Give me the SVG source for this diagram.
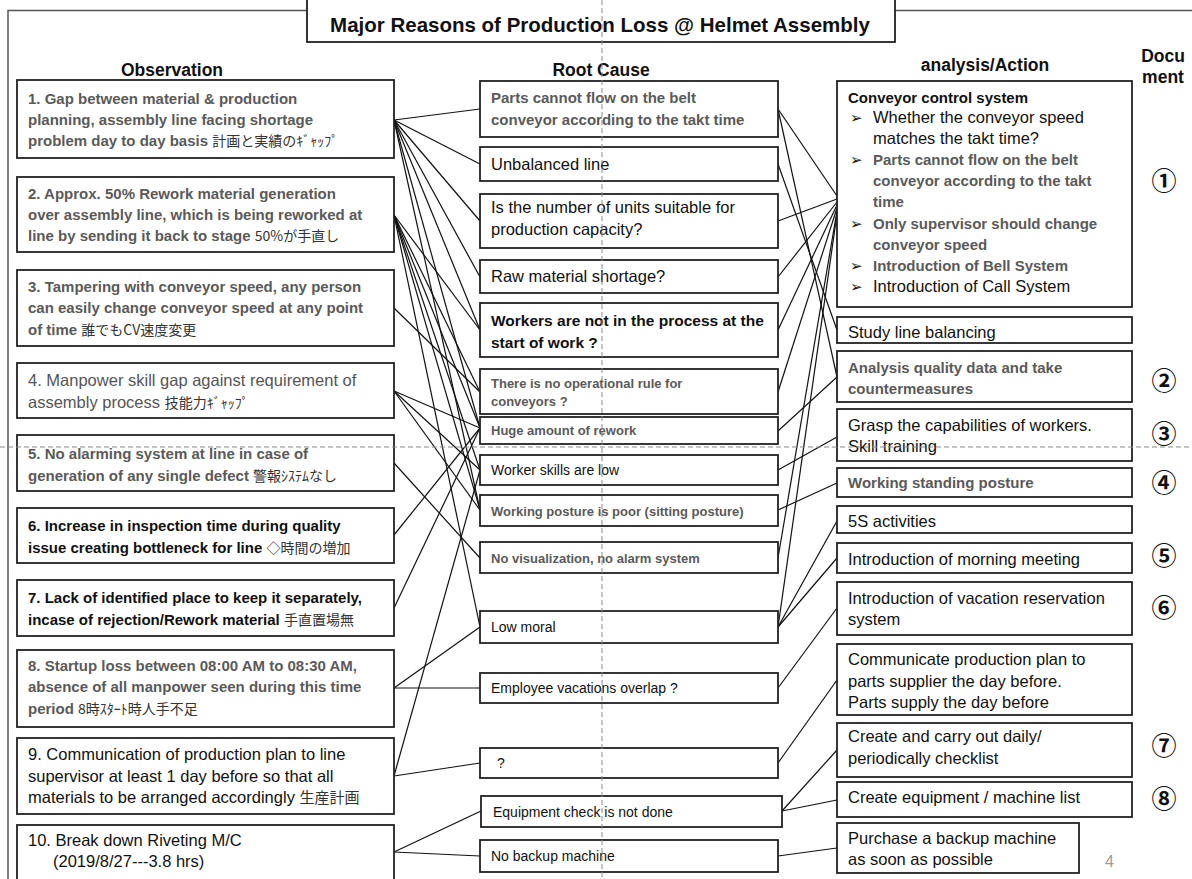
<svg xmlns="http://www.w3.org/2000/svg" width="1192" height="879" viewBox="0 0 1192 879">
  <style>
    .box{fill:#fff;stroke:#222;stroke-width:1.8}
    text{font-family:"Liberation Sans","Noto Sans CJK JP",sans-serif}
    .b{font-weight:bold;font-size:15px;fill:#5a5a5a}
    .bk{font-weight:bold;font-size:15px;fill:#111}
    .r{font-size:16.5px;fill:#111}
    .rg{font-size:16.5px;fill:#555}
    .s{font-size:14px;fill:#111}
    .sb{font-weight:bold;font-size:13px;fill:#5a5a5a}
    .jp{font-family:"Noto Sans CJK JP",sans-serif;font-weight:normal;font-size:14px;fill:#333}
    .hd{font-weight:bold;font-size:17.5px;fill:#111}
    .num{font-family:"Noto Sans CJK JP",sans-serif;font-size:25px;font-weight:bold;fill:#111;text-anchor:middle}
    .bul{font-family:"DejaVu Sans",sans-serif;font-size:15px;font-weight:bold;fill:#111}
    .c{stroke:#111;stroke-width:1.2;fill:none}
    .guide{stroke:#8a8a8a;stroke-width:1;stroke-dasharray:5 3;fill:none}
    .frame{stroke:#555;stroke-width:1.5;fill:none}
  </style>

  <!-- page frame -->
  <path class="frame" d="M8 879 V10.5 H307 M895 10.5 H1192"/>

  <!-- title -->
  <g id="title">
    <rect class="box" x="307" y="-1" width="588" height="43"/>
    <text x="600" y="32" text-anchor="middle" style="font-weight:bold;font-size:20.5px;fill:#111">Major Reasons of Production Loss @ Helmet Assembly</text>
  </g>

  <!-- column headers -->
  <g id="headers">
    <text class="hd" x="172" y="76" text-anchor="middle">Observation</text>
    <text class="hd" x="601" y="76" text-anchor="middle">Root Cause</text>
    <text class="hd" x="985" y="71" text-anchor="middle">analysis/Action</text>
    <text class="hd" x="1163" y="62" text-anchor="middle">Docu</text>
    <text class="hd" x="1163" y="83" text-anchor="middle">ment</text>
  </g>

  <!-- connectors -->
  <g id="connectors" class="c">
    <!-- observation to root cause -->
    <path d="M394 120 L480 109"/>
    <path d="M394 120 L480 164"/>
    <path d="M394 120 L480 221"/>
    <path d="M394 120 L480 277"/>
    <path d="M394 120 L480 330"/>
    <path d="M394 120 L480 428"/>
    <path d="M394 120 L480 510"/>
    <path d="M394 215 L480 330"/>
    <path d="M394 215 L480 392"/>
    <path d="M394 215 L480 428"/>
    <path d="M394 215 L480 470"/>
    <path d="M394 215 L480 510"/>
    <path d="M394 215 L480 627"/>
    <path d="M394 308 L480 392"/>
    <path d="M394 391 L480 428"/>
    <path d="M394 391 L480 470"/>
    <path d="M394 391 L480 510"/>
    <path d="M394 463 L480 558"/>
    <path d="M394 535 L480 428"/>
    <path d="M394 608 L480 428"/>
    <path d="M394 688 L480 627"/>
    <path d="M394 688 L480 688"/>
    <path d="M394 776 L480 470"/>
    <path d="M394 776 L480 763"/>
    <path d="M394 852 L481 811"/>
    <path d="M394 852 L480 856"/>
    <!-- root cause to action -->
    <path d="M778 109 L837 196"/>
    <path d="M778 109 L837 377"/>
    <path d="M778 164 L837 330"/>
    <path d="M778 221 L837 199"/>
    <path d="M778 277 L837 202"/>
    <path d="M778 330 L837 205"/>
    <path d="M778 392 L837 208"/>
    <path d="M778 431 L837 377"/>
    <path d="M778 470 L837 437"/>
    <path d="M778 510 L837 483"/>
    <path d="M778 558 L837 211"/>
    <path d="M778 627 L837 214"/>
    <path d="M778 627 L837 521"/>
    <path d="M778 627 L837 558"/>
    <path d="M778 688 L837 608"/>
    <path d="M778 763 L837 680"/>
    <path d="M782 811 L837 750"/>
    <path d="M782 811 L837 800"/>
    <path d="M778 856 L837 848"/>
  </g>

  <!-- observations -->
  <g id="obs1">
    <rect class="box" x="17" y="80" width="377" height="78"/>
    <text class="b" x="28" y="104">1. Gap between material &amp; production</text>
    <text class="b" x="28" y="125">planning, assembly line facing shortage</text>
    <text class="b" x="28" y="146">problem day to day basis <tspan class="jp">計画と実績のｷﾞｬｯﾌﾟ</tspan></text>
  </g>
  <g id="obs2">
    <rect class="box" x="17" y="177" width="377" height="75"/>
    <text class="b" x="28" y="199">2. Approx. 50% Rework material generation</text>
    <text class="b" x="28" y="220">over assembly line, which is being reworked at</text>
    <text class="b" x="28" y="241">line by sending it back to stage <tspan class="jp">50%が手直し</tspan></text>
  </g>
  <g id="obs3">
    <rect class="box" x="17" y="270" width="377" height="76"/>
    <text class="b" x="28" y="292">3. Tampering with conveyor speed, any person</text>
    <text class="b" x="28" y="313">can easily change conveyor speed at any point</text>
    <text class="b" x="28" y="335">of time <tspan class="jp">誰でもCV速度変更</tspan></text>
  </g>
  <g id="obs4">
    <rect class="box" x="17" y="363" width="377" height="55"/>
    <text class="rg" x="28" y="386">4. Manpower skill gap against requirement of</text>
    <text class="rg" x="28" y="408">assembly process <tspan class="jp">技能力ｷﾞｬｯﾌﾟ</tspan></text>
  </g>
  <g id="obs5">
    <rect class="box" x="17" y="435" width="377" height="56"/>
    <text class="b" x="28" y="459">5. No alarming system at line in case of</text>
    <text class="b" x="28" y="481">generation of any single defect <tspan class="jp">警報ｼｽﾃﾑなし</tspan></text>
  </g>
  <g id="obs6">
    <rect class="box" x="17" y="508" width="377" height="55"/>
    <text class="bk" x="28" y="531">6. Increase in inspection time during quality</text>
    <text class="bk" x="28" y="553">issue creating bottleneck for line <tspan class="jp">◇時間の増加</tspan></text>
  </g>
  <g id="obs7">
    <rect class="box" x="17" y="580" width="377" height="56"/>
    <text class="bk" x="28" y="603">7. Lack of identified place to keep it separately,</text>
    <text class="bk" x="28" y="625">incase of rejection/Rework material <tspan class="jp">手直置場無</tspan></text>
  </g>
  <g id="obs8">
    <rect class="box" x="17" y="650" width="377" height="77"/>
    <text class="b" x="28" y="671">8. Startup loss between 08:00 AM to 08:30 AM,</text>
    <text class="b" x="28" y="692">absence of all manpower seen during this time</text>
    <text class="b" x="28" y="714">period <tspan class="jp">8時ｽﾀｰﾄ時人手不足</tspan></text>
  </g>
  <g id="obs9">
    <rect class="box" x="17" y="738" width="377" height="76"/>
    <text class="r" x="28" y="760">9. Communication of production plan to line</text>
    <text class="r" x="28" y="782">supervisor at least 1 day before so that all</text>
    <text class="r" x="28" y="803">materials to be arranged accordingly <tspan class="jp" style="font-size:15px">生産計画</tspan></text>
  </g>
  <g id="obs10">
    <rect class="box" x="17" y="825" width="377" height="65"/>
    <text class="r" x="28" y="846">10. Break down Riveting M/C</text>
    <text class="r" x="53" y="867">(2019/8/27---3.8 hrs)</text>
  </g>

  <!-- root causes -->
  <g id="cause1">
    <rect class="box" x="480" y="81" width="298" height="56"/>
    <text class="b" x="491" y="103">Parts cannot flow on the belt</text>
    <text class="b" x="491" y="125">conveyor according to the takt time</text>
  </g>
  <g id="cause2">
    <rect class="box" x="480" y="147" width="298" height="34"/>
    <text class="r" x="491" y="170">Unbalanced line</text>
  </g>
  <g id="cause3">
    <rect class="box" x="480" y="194" width="298" height="54"/>
    <text class="r" x="491" y="213">Is the number of units suitable for</text>
    <text class="r" x="491" y="235">production capacity?</text>
  </g>
  <g id="cause4">
    <rect class="box" x="480" y="260" width="298" height="33"/>
    <text class="r" x="491" y="282">Raw material shortage?</text>
  </g>
  <g id="cause5">
    <rect class="box" x="480" y="303" width="298" height="54"/>
    <text class="bk" x="491" y="326" style="font-size:15.5px">Workers are not in the process at the</text>
    <text class="bk" x="491" y="348" style="font-size:15.5px">start of work ?</text>
  </g>
  <g id="cause6">
    <rect class="box" x="480" y="369" width="298" height="45"/>
    <text class="sb" x="491" y="388">There is no operational rule for</text>
    <text class="sb" x="491" y="406">conveyors ?</text>
  </g>
  <g id="cause7">
    <rect class="box" x="480" y="417" width="298" height="27"/>
    <text class="sb" x="491" y="435">Huge amount of rework</text>
  </g>
  <g id="cause8">
    <rect class="box" x="480" y="455" width="298" height="30"/>
    <text class="s" x="491" y="475">Worker skills are low</text>
  </g>
  <g id="cause9">
    <rect class="box" x="480" y="495" width="298" height="31"/>
    <text class="sb" x="491" y="516">Working posture is poor (sitting posture)</text>
  </g>
  <g id="cause10">
    <rect class="box" x="480" y="542" width="298" height="31"/>
    <text class="sb" x="491" y="563">No visualization, no alarm system</text>
  </g>
  <g id="cause11">
    <rect class="box" x="480" y="611" width="298" height="32"/>
    <text class="s" x="491" y="632">Low moral</text>
  </g>
  <g id="cause12">
    <rect class="box" x="480" y="673" width="298" height="30"/>
    <text class="s" x="491" y="693">Employee vacations overlap ?</text>
  </g>
  <g id="cause13">
    <rect class="box" x="480" y="748" width="298" height="30"/>
    <text class="s" x="497" y="768">?</text>
  </g>
  <g id="cause14">
    <rect class="box" x="481" y="796" width="301" height="31"/>
    <text class="s" x="493" y="817">Equipment check is not done</text>
  </g>
  <g id="cause15">
    <rect class="box" x="480" y="840" width="298" height="32"/>
    <text class="s" x="491" y="861">No backup machine</text>
  </g>

  <!-- actions -->
  <g id="action1">
    <rect class="box" x="837" y="81" width="295" height="226"/>
    <text class="bk" x="848" y="103">Conveyor control system</text>
    <text class="bul" x="850" y="123">➢</text>
    <text class="r" x="873" y="123">Whether the conveyor speed</text>
    <text class="r" x="873" y="144">matches the takt time?</text>
    <text class="bul" x="850" y="165">➢</text>
    <text class="b" x="873" y="165">Parts cannot flow on the belt</text>
    <text class="b" x="873" y="186">conveyor according to the takt</text>
    <text class="b" x="873" y="207">time</text>
    <text class="bul" x="850" y="229">➢</text>
    <text class="b" x="873" y="229">Only supervisor should change</text>
    <text class="b" x="873" y="250">conveyor speed</text>
    <text class="bul" x="850" y="271">➢</text>
    <text class="b" x="873" y="271">Introduction of Bell System</text>
    <text class="bul" x="850" y="292">➢</text>
    <text class="r" x="873" y="292">Introduction of Call System</text>
  </g>
  <g id="action2">
    <rect class="box" x="837" y="317" width="295" height="26"/>
    <text class="r" x="848" y="338">Study line balancing</text>
  </g>
  <g id="action3">
    <rect class="box" x="837" y="351" width="295" height="51"/>
    <text class="b" x="848" y="373">Analysis quality data and take</text>
    <text class="b" x="848" y="394">countermeasures</text>
  </g>
  <g id="action4">
    <rect class="box" x="837" y="409" width="295" height="52"/>
    <text class="r" x="848" y="431">Grasp the capabilities of workers.</text>
    <text class="r" x="848" y="452">Skill training</text>
  </g>
  <g id="action5">
    <rect class="box" x="837" y="468" width="295" height="29"/>
    <text class="b" x="848" y="488">Working standing posture</text>
  </g>
  <g id="action6">
    <rect class="box" x="837" y="506" width="295" height="27"/>
    <text class="r" x="848" y="527">5S activities</text>
  </g>
  <g id="action7">
    <rect class="box" x="837" y="543" width="295" height="30"/>
    <text class="r" x="848" y="565">Introduction of morning meeting</text>
  </g>
  <g id="action8">
    <rect class="box" x="837" y="582" width="295" height="53"/>
    <text class="r" x="848" y="604">Introduction of vacation reservation</text>
    <text class="r" x="848" y="625">system</text>
  </g>
  <g id="action9">
    <rect class="box" x="837" y="644" width="295" height="71"/>
    <text class="r" x="848" y="665">Communicate production plan to</text>
    <text class="r" x="848" y="687">parts supplier the day before.</text>
    <text class="r" x="848" y="708">Parts supply the day before</text>
  </g>
  <g id="action10">
    <rect class="box" x="837" y="723" width="295" height="54"/>
    <text class="r" x="848" y="742">Create and carry out daily/</text>
    <text class="r" x="848" y="764">periodically checklist</text>
  </g>
  <g id="action11">
    <rect class="box" x="837" y="782" width="295" height="35"/>
    <text class="r" x="848" y="803">Create equipment / machine list</text>
  </g>
  <g id="action12">
    <rect class="box" x="837" y="823" width="242" height="50"/>
    <text class="r" x="848" y="844">Purchase a backup machine</text>
    <text class="r" x="848" y="865">as soon as possible</text>
  </g>

  <!-- document numbers -->
  <g id="docs">
    <text class="num" x="1164" y="190">①</text>
    <text class="num" x="1164" y="390">②</text>
    <text class="num" x="1164" y="443">③</text>
    <text class="num" x="1164" y="492">④</text>
    <text class="num" x="1164" y="565">⑤</text>
    <text class="num" x="1164" y="617">⑥</text>
    <text class="num" x="1164" y="755">⑦</text>
    <text class="num" x="1164" y="808">⑧</text>
  </g>

  <!-- page number -->
  <text x="1105" y="867" style="font-size:16px;fill:#999">4</text>

  <!-- layout guides -->
  <path class="guide" d="M602 0 V879 M0 447 H1192"/>
</svg>
